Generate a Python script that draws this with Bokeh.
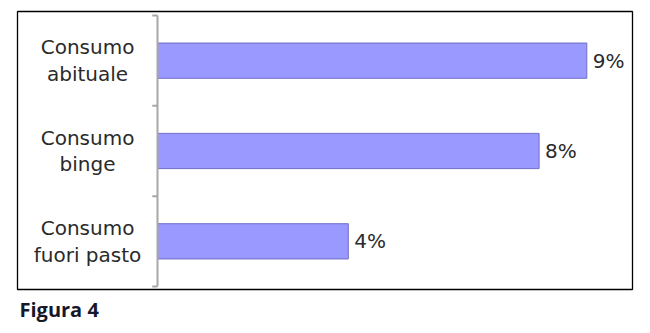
from bokeh.plotting import figure
from bokeh.models import Range1d, Title
from bokeh.core.properties import value
from bokeh.embed import file_html
from bokeh.resources import INLINE

# Data
categories = ["Consumo\nabituale", "Consumo\nbinge", "Consumo\nfuori pasto"]
percentages = [9, 8, 4]
value_labels = ["9%", "8%", "4%"]

n = len(categories)
# top row first: each category occupies a band of height 1
centers = [n - 0.5 - i for i in range(n)]
boundaries = list(range(n + 1))

p = figure(
    width=650, height=333,
    output_backend="svg", toolbar_location=None,
    x_range=Range1d(-2.935, 9.958), y_range=Range1d(-0.033, 3.044),
    x_axis_location=None, y_axis_location=None,
    min_border_left=17, min_border_right=18,
    min_border_top=11, min_border_bottom=44,
)
p.grid.visible = False
p.outline_line_color = "black"
p.outline_line_width = 1.3
p.background_fill_color = "white"
p.border_fill_color = "white"

# bars
p.hbar(y=centers, left=0, right=percentages, height=0.39,
       fill_color="#9999ff", line_color="#6e6ec8", line_width=1)

# category axis line with tick marks at the band boundaries
p.segment(x0=0, y0=0, x1=0, y1=n, line_color="#a8a8a8", line_width=2)
p.segment(x0=[-0.11] * len(boundaries), y0=boundaries, x1=[0] * len(boundaries),
          y1=boundaries, line_color="#a8a8a8", line_width=2)

# category labels
p.text(x=-1.467, y=centers, text=categories,
       text_align="center", text_baseline="middle",
       text_font=value("DejaVu Sans"), text_font_size="20px",
       text_color="#2a2a2a", text_line_height=1.1)

# value labels
p.text(x=percentages, y=centers, text=value_labels, x_offset=6,
       text_align="left", text_baseline="middle",
       text_font=value("DejaVu Sans"), text_font_size="20px",
       text_color="#2a2a2a")

caption = Title(text="Figura 4", align="left", offset=2, standoff=8,
                text_font="Open Sans", text_font_style="bold",
                text_font_size="20px", text_color="#15172a")
p.add_layout(caption, "below")

open("out.html", "w").write(file_html(p, INLINE))
